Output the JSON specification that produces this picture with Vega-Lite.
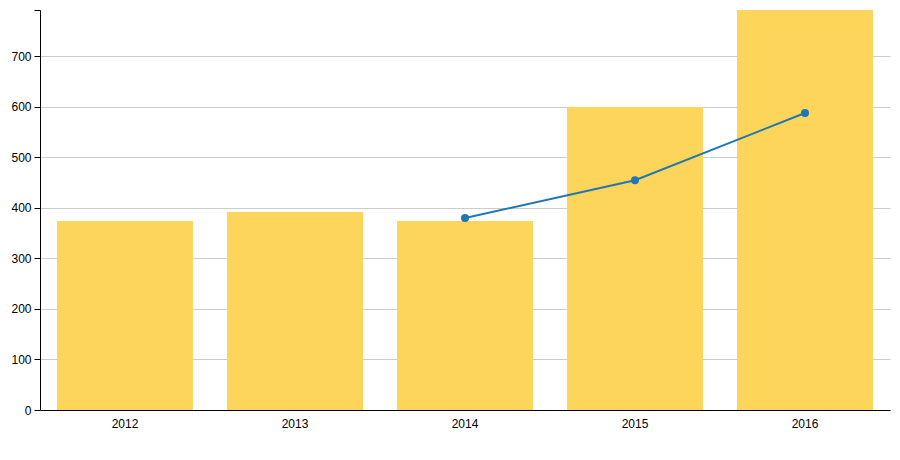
{
  "$schema": "https://vega.github.io/schema/vega-lite/v6.json",
  "width": 850,
  "height": 400,
  "autosize": {"type": "none"},
  "padding": {"left": 40, "top": 10, "right": 10, "bottom": 50},
  "background": "white",
  "config": {
    "view": {"stroke": null},
    "axis": {"labelFont": "Liberation Sans", "labelFontSize": 12, "labelColor": "#000", "domainColor": "#000", "tickColor": "#000", "title": null}
  },
  "data": {
    "values": [
      {"year": "2012", "bar": 374, "line": null},
      {"year": "2013", "bar": 392, "line": null},
      {"year": "2014", "bar": 374, "line": 380},
      {"year": "2015", "bar": 600, "line": 455},
      {"year": "2016", "bar": 792, "line": 588}
    ]
  },
  "encoding": {
    "x": {
      "field": "year", "type": "ordinal",
      "scale": {"paddingInner": 0.2, "paddingOuter": 0.1},
      "axis": {"labelAngle": 0, "ticks": false, "labelPadding": 8, "grid": false}
    }
  },
  "layer": [
    {
      "mark": {"type": "bar", "color": "#fdd55b"},
      "encoding": {
        "y": {
          "field": "bar", "type": "quantitative",
          "scale": {"domain": [0, 792], "nice": false},
          "axis": {
            "values": [0, 100, 200, 300, 400, 500, 600, 700, 792],
            "labelExpr": "datum.value > 750 ? '' : datum.label",
            "grid": true,
            "gridColor": {"condition": {"test": "datum.value > 750", "value": "transparent"}, "value": "#cccccc"},
            "tickSize": 6,
            "labelPadding": 3
          }
        }
      }
    },
    {
      "mark": {"type": "line", "color": "#1f77b4", "strokeWidth": 2, "point": {"color": "#1f77b4", "size": 64, "filled": true, "opacity": 1}},
      "transform": [{"filter": "datum.line != null"}],
      "encoding": {
        "y": {"field": "line", "type": "quantitative"}
      }
    }
  ]
}
